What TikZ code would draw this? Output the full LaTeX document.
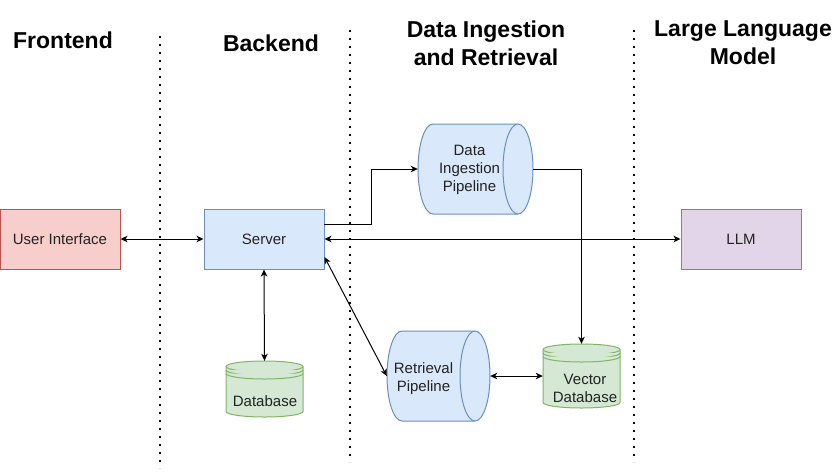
\documentclass[tikz,border=0pt]{standalone}
\usepackage{fontspec}
\setmainfont{Liberation Sans}
\usetikzlibrary{arrows.meta,calc}
\definecolor{bluefill}{HTML}{DAE8FC}\definecolor{bluedraw}{HTML}{6C8EBF}
\definecolor{greenfill}{HTML}{D5E8D4}\definecolor{greendraw}{HTML}{82B366}
\definecolor{redfill}{HTML}{F8CECC}\definecolor{reddraw}{HTML}{B85450}
\definecolor{purpfill}{HTML}{E1D5E7}\definecolor{purpdraw}{HTML}{9673A6}
\definecolor{txtcol}{HTML}{222222}
% horizontal cylinder: x1 x2 ytop ybot rx ry
\newcommand\hcylshape[7]{%
  \filldraw[#7] (#2-#5,#3) -- (#1+#5,#3) arc[start angle=90,end angle=270,x radius=#5pt,y radius=#6pt]
    -- (#2-#5,#4) arc[start angle=-90,end angle=90,x radius=#5pt,y radius=#6pt] -- cycle;
  \draw[#7] (#2-#5,#3) arc[start angle=90,end angle=270,x radius=#5pt,y radius=#6pt];}
% datastore: x1 x2 ytop ybot rx ry
\newcommand\dbshape[7]{%
  \filldraw[#7] (#1,#3+#6) -- (#1,#4-#6) arc[start angle=180,end angle=360,x radius=#5pt,y radius=#6pt]
    -- (#2,#3+#6) arc[start angle=0,end angle=180,x radius=#5pt,y radius=#6pt] -- cycle;
  \draw[#7] (#1,#3+#6) arc[start angle=180,end angle=360,x radius=#5pt,y radius=#6pt];
  \draw[#7] (#1,#3+#6+3.5) arc[start angle=180,end angle=360,x radius=#5pt,y radius=#6pt];
  \draw[#7] (#1,#3+#6+7) arc[start angle=180,end angle=360,x radius=#5pt,y radius=#6pt];}
\begin{document}
\begin{tikzpicture}[x=1pt,y=-1pt,
  every node/.style={text=txtcol,font=\fontsize{15}{18}\selectfont,align=center,inner sep=0pt},
  header/.style={text=black,font=\fontsize{23}{28}\selectfont\bfseries},
  boxnode/.style={draw,line width=1pt,minimum width=120pt,minimum height=60pt},
  ghost/.style={draw=none},
  conn/.style={line width=1pt,black},
  bi/.style={conn,{Stealth[length=7pt,width=6.5pt,inset=2pt]}-{Stealth[length=7pt,width=6.5pt,inset=2pt]}},
  one/.style={conn,-{Stealth[length=7pt,width=6.5pt,inset=2pt]}},
  sep/.style={line width=1.7pt,dash pattern=on 1.7pt off 6.3pt},
  bluestyle/.style={fill=bluefill,draw=bluedraw,line width=1pt},
  greenstyle/.style={fill=greenfill,draw=greendraw,line width=1pt}]
\useasboundingbox (0,0) rectangle (837,472);

% separators
\draw[sep] (160,36) -- (160,468);
\draw[sep] (350,30) -- (350,462);
\draw[sep] (634,30) -- (634,462);

% headers
\node[header] (h1) at (63,40) {Frontend};
\node[header] (h2) at (271,43) {Backend};
\node[header] (h3) at (486,43) {Data Ingestion\\and Retrieval};
\node[header] (h4) at (743,43) {Large Language\\Model};

% boxes
\node[boxnode,fill=redfill,draw=reddraw] (ui) at (60,239) {User Interface};
\node[boxnode,fill=bluefill,draw=bluedraw] (server) at (264,239) {Server};
\node[boxnode,fill=purpfill,draw=purpdraw] (llm) at (741,239) {LLM};

% cylinders
\hcylshape{418}{533}{124}{214}{15}{45}{bluestyle}
\node[ghost,minimum width=115pt,minimum height=90pt] (dip) at (475.5,169) {};
\node (diptext) at (469.5,170) {Data\\Ingestion\\Pipeline};

\hcylshape{387}{490}{331}{421}{15}{45}{bluestyle}
\node[ghost,minimum width=103pt,minimum height=90pt] (rp) at (438.5,376) {};
\node (rptext) at (423.5,379) {Retrieval\\Pipeline};

\dbshape{226}{303}{361}{417}{38.5}{5.5}{greenstyle}
\node[ghost,minimum width=77pt,minimum height=56pt] (db) at (264.5,389) {};
\node (dbtext) at (265,401) {Database};

\dbshape{543}{620}{344}{408}{38.5}{5.5}{greenstyle}
\node[ghost,minimum width=77pt,minimum height=64pt] (vdb) at (581.5,376) {};
\node (vdbtext) at (585,388) {Vector\\Database};

% connectors
\coordinate (sout) at (324,224);
\coordinate (sdiag) at (324.5,257);
\draw[bi] (ui) -- (server);
\draw[bi] (server) -- (llm);
\draw[one] (sout) -- ++(47,0) |- (dip.west);
\draw[one] (dip.east) -| (vdb.north);
\draw[bi] (server.south) -- (db.north);
\draw[bi] (sdiag) -- (rp.west);
\draw[bi] (rp.east) -- (vdb.west);
\end{tikzpicture}
\end{document}
